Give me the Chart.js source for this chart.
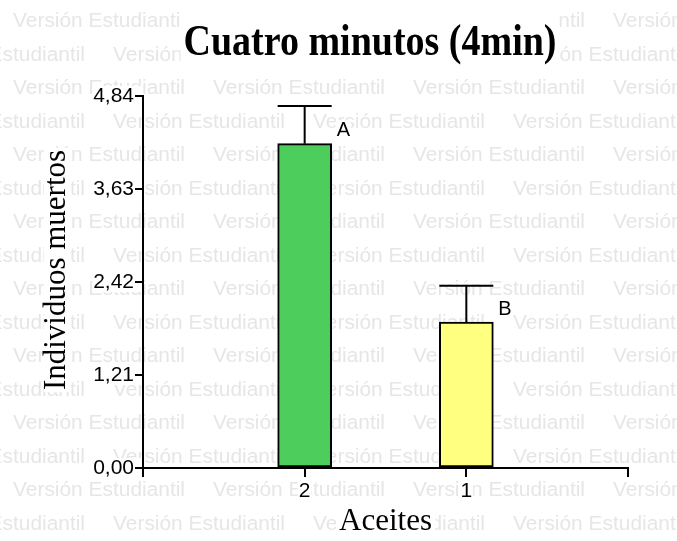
<!DOCTYPE html>
<html>
<head>
<meta charset="utf-8">
<script src="https://cdn.jsdelivr.net/npm/chart.js@4"></script>
<style>
  html, body { margin: 0; padding: 0; background: #fff; }
  #wrap { width: 677px; height: 541px; }
</style>
</head>
<body>
<div id="wrap"><canvas id="chart" width="677" height="541"></canvas></div>
<script>
// data
const categories = ['2', '1'];
const means = [4.22, 1.90];
const errors = [0.49, 0.47];
const letters = ['A', 'B'];
const barColors = ['#4ccd5c', '#ffff80'];
const yTicks = [0, 1.21, 2.42, 3.63, 4.84];

const chartTitle = 'Cuatro minutos (4min)';
const yTitle = 'Individuos muertos';
const xTitle = 'Aceites';
const watermark = 'Versión Estudiantil';

const sans = "'Liberation Sans', Arial, sans-serif";
const serif = "'Liberation Serif', 'Times New Roman', serif";

const fmt = v => Number(v).toFixed(2).replace('.', ',');

// empty slots at both ends so the bars sit at 1/3 and 2/3 of the axis
const labels = ['', ...categories, ''];
const values = [null, ...means, null];
const colors = ['#fff', ...barColors, '#fff'];

function whiteBox(ctx, x, y, w, h) {
    ctx.fillStyle = '#fff';
    ctx.fillRect(x, y, w, h);
}

const backdrop = {
    id: 'backdrop',
    beforeDraw(chart) {
        const ctx = chart.ctx;
        const area = chart.chartArea;
        ctx.save();
        ctx.fillStyle = '#fff';
        ctx.fillRect(0, 0, chart.width, chart.height);

        // watermark rows
        ctx.font = '20px ' + sans;
        ctx.fillStyle = '#e6e6e6';
        ctx.textBaseline = 'middle';
        ctx.textAlign = 'left';
        const sx = 172 / ctx.measureText(watermark).width;
        for (let k = 0; k < 17; k++) {
            const y = 21.5 + 33.5 * k;
            for (let x = (k % 2 ? -87 : 13); x < chart.width; x += 200) {
                ctx.save();
                ctx.translate(x, y);
                ctx.scale(sx, 1);
                ctx.fillText(watermark, 0, 0);
                ctx.restore();
            }
        }

        // white boxes behind the texts
        const ys = chart.scales.y;
        ctx.font = '21px ' + sans;
        yTicks.forEach(v => {
            const py = ys.getPixelForValue(v);
            const w = ctx.measureText(fmt(v)).width;
            whiteBox(ctx, area.left - 10 - w, py - 10, w + 10, 20);
        });
        const xs = chart.scales.x;
        categories.forEach((c, i) => {
            const px = xs.getPixelForTick(i + 1);
            const w = ctx.measureText(c).width;
            whiteBox(ctx, px - w / 2 - 1, area.bottom + 12, w + 2, 22);
        });
        ctx.font = 'bold 38px ' + serif;
        let w = ctx.measureText(chartTitle).width;
        whiteBox(ctx, 370 - w / 2 - 3, 8, w + 6, 54);
        ctx.font = '31px ' + serif;
        w = ctx.measureText(xTitle).width;
        whiteBox(ctx, (area.left + area.right) / 2 - w / 2 - 3, 507, w + 6, 30);
        w = ctx.measureText(yTitle).width;
        whiteBox(ctx, 44, 270 - w / 2 - 2, 27, w + 4);

        // y axis title
        ctx.fillStyle = '#000';
        ctx.save();
        ctx.translate(57, 270);
        ctx.rotate(-Math.PI / 2);
        ctx.textAlign = 'center';
        ctx.textBaseline = 'middle';
        ctx.fillText(yTitle, 0, 0);
        ctx.restore();

        // title, a little taller than the plain font
        ctx.font = 'bold 38px ' + serif;
        ctx.textAlign = 'center';
        ctx.textBaseline = 'alphabetic';
        ctx.translate(370, 55);
        ctx.scale(1, 1.16);
        ctx.fillText(chartTitle, 0, 0);
        ctx.restore();
    },
    afterDatasetsDraw(chart) {
        const ctx = chart.ctx;
        const meta = chart.getDatasetMeta(0);
        const ys = chart.scales.y;
        ctx.save();
        ctx.strokeStyle = '#000';
        ctx.lineWidth = 2;
        means.forEach((m, i) => {
            const bar = meta.data[i + 1];
            const yTop = ys.getPixelForValue(m + errors[i]);
            const yBar = ys.getPixelForValue(m);
            const half = bar.width / 2;
            ctx.beginPath();
            ctx.moveTo(bar.x, yBar);
            ctx.lineTo(bar.x, yTop);
            ctx.moveTo(bar.x - half, yTop);
            ctx.lineTo(bar.x + half, yTop);
            ctx.stroke();

            ctx.font = '20px ' + sans;
            const lw = ctx.measureText(letters[i]).width;
            whiteBox(ctx, bar.x + 31, yTop + 14, lw + 2, 18);
            ctx.fillStyle = '#000';
            ctx.textAlign = 'left';
            ctx.textBaseline = 'middle';
            ctx.fillText(letters[i], bar.x + 32, yTop + 24);
        });
        ctx.restore();
    }
};

new Chart(document.getElementById('chart'), {
    type: 'bar',
    data: {
        labels: labels,
        datasets: [{
            data: values,
            backgroundColor: colors,
            borderColor: '#000',
            borderWidth: 2,
            borderSkipped: false,
            barThickness: 54
        }]
    },
    options: {
        responsive: false,
        animation: false,
        events: [],
        layout: { padding: { top: 96, right: 49, left: 0, bottom: 0 } },
        plugins: {
            legend: { display: false },
            title: { display: false },
            tooltip: { enabled: false }
        },
        scales: {
            x: {
                offset: false,
                grid: {
                    offset: false,
                    drawOnChartArea: false,
                    drawTicks: true,
                    tickLength: 9,
                    color: '#000',
                    lineWidth: 2
                },
                border: { display: true, color: '#000', width: 2 },
                ticks: {
                    color: '#000',
                    font: { family: sans, size: 21 },
                    padding: 2,
                    maxRotation: 0,
                    autoSkip: false
                },
                title: {
                    display: true,
                    text: xTitle,
                    color: '#000',
                    font: { family: serif, size: 31 },
                    padding: { top: 0, bottom: 1 }
                },
                afterFit(scale) { scale.height = 73; }
            },
            y: {
                min: 0,
                max: yTicks[yTicks.length - 1],
                grid: {
                    drawOnChartArea: false,
                    drawTicks: true,
                    tickLength: 8,
                    color: '#000',
                    lineWidth: 2
                },
                border: { display: true, color: '#000', width: 2 },
                ticks: {
                    color: '#000',
                    font: { family: sans, size: 21 },
                    padding: 1,
                    callback: v => fmt(v)
                },
                afterBuildTicks(scale) {
                    scale.ticks = yTicks.map(v => ({ value: v }));
                },
                afterFit(scale) { scale.width = 143; }
            }
        }
    },
    plugins: [backdrop]
});
</script>
</body>
</html>
